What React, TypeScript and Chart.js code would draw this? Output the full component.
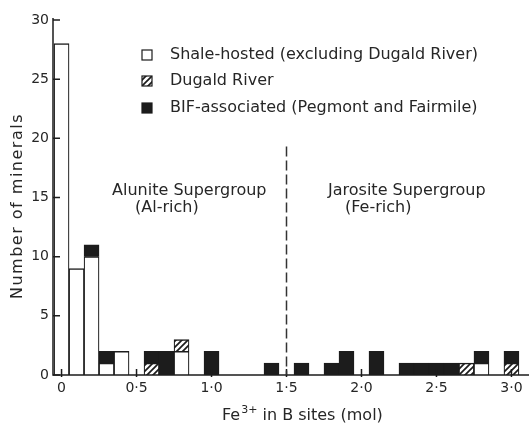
import { useEffect, useRef } from "react";
import { Chart, registerables } from "chart.js";

Chart.register(...registerables);

// ---- data ----
const binCentres = [
  0.0, 0.1, 0.2, 0.3, 0.4, 0.5, 0.6, 0.7, 0.8, 0.9,
  1.0, 1.1, 1.2, 1.3, 1.4, 1.5, 1.6, 1.7, 1.8, 1.9,
  2.0, 2.1, 2.2, 2.3, 2.4, 2.5, 2.6, 2.7, 2.8, 2.9, 3.0,
];
const shaleHosted = [28, 9, 10, 1, 2, 0, 0, 0, 2, 0, 0, 0, 0, 0, 0, 0, 0, 0, 0, 0, 0, 0, 0, 0, 0, 0, 0, 0, 1, 0, 0];
const dugaldRiver = [0, 0, 0, 0, 0, 0, 1, 0, 1, 0, 0, 0, 0, 0, 0, 0, 0, 0, 0, 0, 0, 0, 0, 0, 0, 0, 0, 1, 0, 0, 1];
const bifAssociated = [0, 0, 1, 1, 0, 0, 1, 2, 0, 0, 2, 0, 0, 0, 1, 0, 1, 0, 1, 2, 0, 2, 0, 1, 1, 1, 1, 0, 1, 0, 1];

const seriesNames = [
  "Shale-hosted (excluding Dugald River)",
  "Dugald River",
  "BIF-associated (Pegmont and Fairmile)",
];

const xTickValues = [0, 0.5, 1.0, 1.5, 2.0, 2.5, 3.0];
const xTickLabels = ["0", "0·5", "1·0", "1·5", "2·0", "2·5", "3·0"];
const yTickValues = [0, 5, 10, 15, 20, 25, 30];
const yTickLabels = ["0", "5", "10", "15", "20", "25", "30"];

const yTitle = "Number of minerals";
const dividerValue = 1.5;
const dividerTop = 19.3;

const annotations = [
  { text: "Alunite Supergroup", x: 0.337, y: 15.6 },
  { text: "(Al-rich)", x: 0.49, y: 14.1 },
  { text: "Jarosite Supergroup", x: 1.777, y: 15.6 },
  { text: "(Fe-rich)", x: 1.89, y: 14.1 },
];

// ---- styles ----
const INK = "#1c1c1c";
const TEXT = "#262626";
const FONT = '"DejaVu Sans", sans-serif';

function makeHatch(): CanvasPattern | string {
  const c = document.createElement("canvas");
  c.width = 6;
  c.height = 6;
  const g = c.getContext("2d");
  if (!g) return "#999";
  g.fillStyle = "#ffffff";
  g.fillRect(0, 0, 6, 6);
  g.strokeStyle = INK;
  g.lineWidth = 1.7;
  g.beginPath();
  g.moveTo(-1, 7);
  g.lineTo(7, -1);
  g.moveTo(-4, 4);
  g.lineTo(4, -4);
  g.moveTo(2, 10);
  g.lineTo(10, 2);
  g.stroke();
  const p = g.createPattern(c, "repeat");
  return p || "#999";
}

export default function App() {
  const ref = useRef<HTMLCanvasElement | null>(null);

  useEffect(() => {
    const canvas = ref.current;
    if (!canvas) return;
    const hatch = makeHatch();
    const fills = ["#ffffff", hatch, INK];
    const seriesValues = [shaleHosted, dugaldRiver, bifAssociated];

    const toData = (arr: number[]) =>
      binCentres.map((b, i) => ({ x: b, y: arr[i] ? arr[i] : null }));

    const overlay = {
      id: "overlay",
      afterDatasetsDraw(chart: any) {
        const { ctx, chartArea: a, scales } = chart;
        const x = scales.x;
        const y = scales.y;
        ctx.save();
        ctx.strokeStyle = INK;
        ctx.lineWidth = 1.5;
        ctx.setLineDash([]);
        // axes
        ctx.beginPath();
        ctx.moveTo(a.left, a.top - 2);
        ctx.lineTo(a.left, a.bottom);
        ctx.lineTo(a.right, a.bottom);
        ctx.stroke();
        // inward ticks
        ctx.beginPath();
        for (const v of yTickValues) {
          const py = y.getPixelForValue(v);
          ctx.moveTo(a.left, py);
          ctx.lineTo(a.left + 7, py);
        }
        for (const v of xTickValues) {
          const px = x.getPixelForValue(v);
          ctx.moveTo(px, a.bottom + 2);
          ctx.lineTo(px, a.bottom - 6);
        }
        ctx.stroke();
        // dashed divider
        ctx.setLineDash([10, 4]);
        ctx.lineWidth = 1.5;
        ctx.strokeStyle = "#333";
        ctx.beginPath();
        const dx = x.getPixelForValue(dividerValue);
        ctx.moveTo(dx, y.getPixelForValue(dividerTop));
        ctx.lineTo(dx, a.bottom);
        ctx.stroke();
        ctx.setLineDash([]);

        // annotations
        ctx.fillStyle = TEXT;
        ctx.font = `16px ${FONT}`;
        ctx.textAlign = "left";
        ctx.textBaseline = "middle";
        for (const t of annotations) {
          ctx.fillText(t.text, x.getPixelForValue(t.x), y.getPixelForValue(t.y));
        }

        // legend
        const legendTop = [55, 81, 108];
        for (let i = 0; i < seriesNames.length; i++) {
          const cy = legendTop[i];
          ctx.fillStyle = fills[i] as any;
          ctx.fillRect(142, cy - 5, 10, 10);
          ctx.strokeStyle = INK;
          ctx.lineWidth = 1.2;
          ctx.strokeRect(142, cy - 5, 10, 10);
          ctx.fillStyle = TEXT;
          ctx.fillText(seriesNames[i], 170, cy);
        }

        // x title with superscript
        ctx.textBaseline = "alphabetic";
        const base = 420;
        let cx = 222;
        ctx.font = `16px ${FONT}`;
        ctx.fillText("Fe", cx, base);
        cx += ctx.measureText("Fe").width + 1;
        ctx.font = `11px ${FONT}`;
        ctx.fillText("3+", cx, base - 7);
        cx += ctx.measureText("3+").width;
        ctx.font = `16px ${FONT}`;
        ctx.fillText(" in B sites (mol)", cx, base);

        // y title
        ctx.save();
        ctx.translate(18, 206);
        ctx.rotate(-Math.PI / 2);
        ctx.font = `16px ${FONT}`;
        (ctx as any).letterSpacing = "1.5px";
        ctx.textAlign = "center";
        ctx.textBaseline = "middle";
        ctx.fillText(yTitle, 0, 0);
        ctx.restore();

        ctx.restore();
      },
    };

    const chart = new Chart(canvas, {
      type: "bar",
      data: {
        datasets: seriesNames.map((name, i) => ({
          label: name,
          data: toData(seriesValues[i]) as any,
          backgroundColor: fills[i] as any,
          borderColor: INK,
          borderWidth: { top: 1.5, left: 1.2, right: 1.2, bottom: 0 } as any,
          borderSkipped: false as any,
          categoryPercentage: 1,
          barPercentage: 1,
        })),
      },
      options: {
        responsive: false,
        animation: false,
        devicePixelRatio: 1,
        layout: { padding: { top: 20, right: 2, left: 0, bottom: 0 } },
        plugins: {
          legend: { display: false },
          tooltip: { enabled: false },
          title: { display: false },
        },
        scales: {
          x: {
            type: "linear",
            stacked: true,
            offset: false,
            min: -0.057,
            max: 3.117,
            grid: { display: false, drawTicks: false, offset: false },
            border: { display: false },
            afterBuildTicks: (axis: any) => {
              axis.ticks = xTickValues.map((v) => ({ value: v }));
            },
            afterFit: (axis: any) => {
              axis.height = 48;
            },
            ticks: {
              padding: 5,
              color: TEXT,
              font: { family: FONT, size: 14 },
              maxRotation: 0,
              autoSkip: false,
              callback: (_v: any, i: number) => xTickLabels[i],
            },
          },
          y: {
            stacked: true,
            min: 0,
            max: 30,
            grid: { display: false, drawTicks: false },
            border: { display: false },
            afterBuildTicks: (axis: any) => {
              axis.ticks = yTickValues.map((v) => ({ value: v }));
            },
            afterFit: (axis: any) => {
              axis.width = 53;
            },
            ticks: {
              padding: 4,
              color: TEXT,
              font: { family: FONT, size: 14 },
              autoSkip: false,
              callback: (_v: any, i: number) => yTickLabels[i],
            },
          },
        },
      },
      plugins: [overlay],
    });

    return () => chart.destroy();
  }, []);

  return (
    <div style={{ position: "absolute", left: 0, top: 0, width: 531, height: 423, background: "#fff" }}>
      <canvas ref={ref} width={531} height={423} style={{ display: "block", width: 531, height: 423 }} />
    </div>
  );
}
